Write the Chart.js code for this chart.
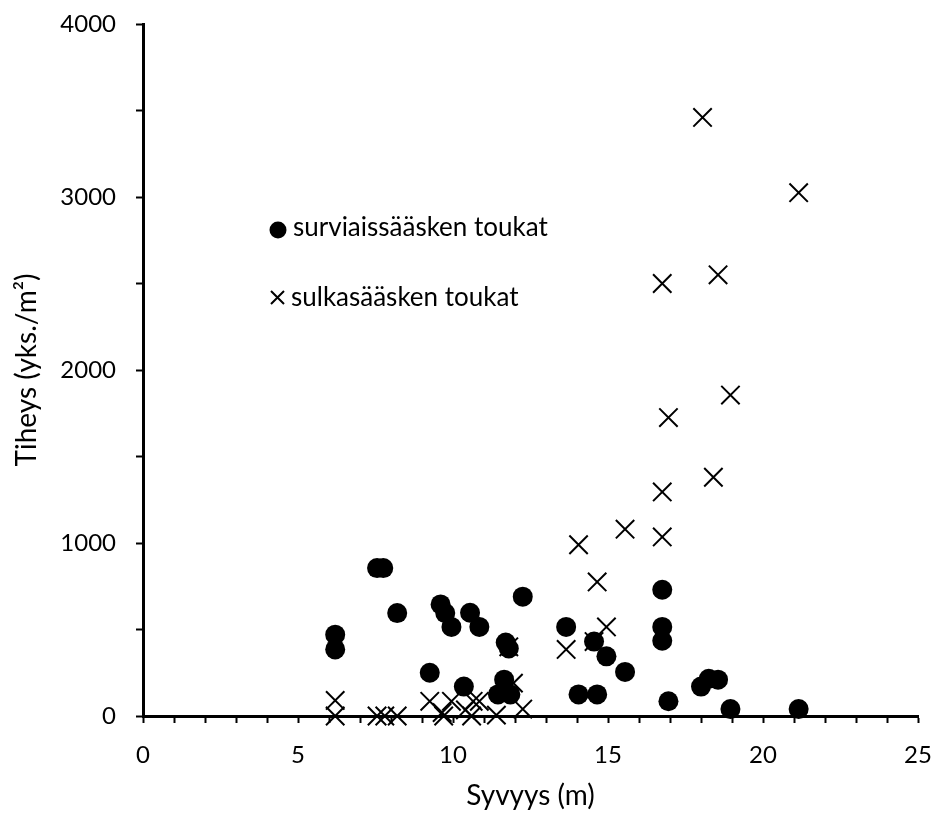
<!DOCTYPE html>
<html>
<head>
<meta charset="utf-8">
<script src="https://cdn.jsdelivr.net/npm/chart.js@4/dist/chart.umd.min.js"></script>
<style>
	html, body { margin: 0; padding: 0; background: #fff; overflow: hidden; }
	#wrap { position: relative; width: 933px; height: 819px; }
	#chart { display: block; }
</style>
</head>
<body>
<div id="wrap"><canvas id="chart"></canvas></div>
<script>
// surviaissääsken toukat (circles)
const surviaisX = [6.2, 6.2, 7.55, 7.75, 8.2, 9.6, 9.75, 9.95, 10.55, 10.85, 9.25, 10.35, 11.7, 11.8, 11.65, 11.45, 11.85,
	12.25, 13.65, 14.05, 14.65, 14.55, 14.95, 15.55, 16.75, 16.75, 16.75, 16.95, 18.0, 18.25, 18.55, 18.95, 21.15];
const surviaisY = [470, 385, 855, 855, 595, 645, 595, 515, 597, 515, 250, 170, 425, 390, 210, 125, 125,
	690, 515, 125, 125, 430, 345, 255, 730, 515, 435, 85, 170, 215, 210, 40, 40];

// sulkasääsken toukat (crosses)
const sulkaX = [18.05, 21.15, 16.75, 18.55, 18.95, 16.95, 18.4, 16.75, 16.75, 15.55, 14.05, 14.65, 14.95, 13.65, 14.55,
	11.8, 11.95, 12.25, 6.2, 6.2, 7.55, 7.8, 8.2, 9.25, 9.65, 9.95, 10.4, 10.65, 10.6, 10.85, 11.4, 9.7];
const sulkaY = [3460, 3025, 2500, 2550, 1855, 1725, 1380, 1295, 1035, 1080, 990, 775, 515, 385, 430,
	400, 190, 40, 90, 0, 0, 0, 0, 85, 20, 85, 35, 85, 0, 85, 5, 0];

const seriesNames = ['surviaissääsken toukat', 'sulkasääsken toukat'];

const xTicks = [0, 5, 10, 15, 20, 25];
const yTicks = [0, 1000, 2000, 3000, 4000];

const FONT = 'Lato, "Liberation Sans", sans-serif';

function toPoints (xs, ys) {
	return xs.map((x, i) => ({ x, y: ys[i] }));
}

// legend drawn inside the plot, as in the original figure
const innerLegend = {
	id: 'innerLegend',
	afterDraw (chart) {
		const ctx = chart.ctx;
		ctx.save();
		ctx.fillStyle = '#000';
		ctx.strokeStyle = '#000';
		ctx.font = '26px ' + FONT;
		ctx.textBaseline = 'middle';

		// circle item
		ctx.beginPath();
		ctx.arc(278, 230, 8.5, 0, Math.PI * 2);
		ctx.fill();
		ctx.fillText(seriesNames[0], 293, 228);

		// cross item
		ctx.lineWidth = 2;
		ctx.beginPath();
		ctx.moveTo(271, 291); ctx.lineTo(284, 304);
		ctx.moveTo(284, 291); ctx.lineTo(271, 304);
		ctx.stroke();
		ctx.fillText(seriesNames[1], 291, 298);
		ctx.restore();
	}
};

const config = {
	type: 'scatter',
	data: {
		datasets: [
			{
				label: seriesNames[0],
				data: toPoints(surviaisX, surviaisY),
				pointStyle: 'circle',
				pointRadius: 10,
				pointHoverRadius: 10,
				backgroundColor: '#000',
				borderColor: '#000',
				borderWidth: 0,
				clip: false
			},
			{
				label: seriesNames[1],
				data: toPoints(sulkaX, sulkaY),
				pointStyle: 'crossRot',
				pointRadius: 13,
				pointHoverRadius: 13,
				backgroundColor: '#000',
				borderColor: '#000',
				borderWidth: 2,
				clip: false
			}
		]
	},
	options: {
		responsive: true,
		maintainAspectRatio: false,
		animation: false,
		events: [],
		layout: { padding: { left: 0, right: 15, top: 24, bottom: 0 } },
		plugins: {
			legend: { display: false },
			tooltip: { enabled: false }
		},
		scales: {
			x: {
				type: 'linear',
				min: 0,
				max: 25,
				afterFit (scale) {
					scale.height = 103;
					scale.paddingLeft = 0;
					scale.paddingRight = 0;
				},
				border: { display: true, color: '#000', width: 3 },
				grid: { display: true, drawOnChartArea: false, drawTicks: true, tickLength: 7, tickWidth: 2, tickColor: '#000' },
				ticks: {
					stepSize: 1,
					autoSkip: false,
					maxRotation: 0,
					padding: 18,
					color: '#000',
					font: { family: FONT, size: 24 },
					callback: v => xTicks.includes(v) ? String(v) : ''
				},
				title: {
					display: true,
					text: 'Syvyys (m)',
					color: '#000',
					font: { family: FONT, size: 28 },
					padding: { top: 0, bottom: 6 }
				}
			},
			y: {
				type: 'linear',
				min: 0,
				max: 4000,
				afterFit (scale) {
					scale.width = 143;
					scale.paddingTop = 0;
					scale.paddingBottom = 0;
				},
				border: { display: true, color: '#000', width: 3 },
				grid: { display: true, drawOnChartArea: false, drawTicks: true, tickLength: 7, tickWidth: 2, tickColor: '#000' },
				ticks: {
					stepSize: 500,
					autoSkip: false,
					padding: 20,
					color: '#000',
					font: { family: FONT, size: 24 },
					callback: v => yTicks.includes(v) ? String(v) : ''
				},
				title: {
					display: true,
					text: 'Tiheys (yks./m²)',
					color: '#000',
					font: { family: FONT, size: 28 },
					padding: { top: 10, bottom: 0 }
				}
			}
		}
	},
	plugins: [innerLegend]
};

new Chart(document.getElementById('chart'), config);
</script>
</body>
</html>
